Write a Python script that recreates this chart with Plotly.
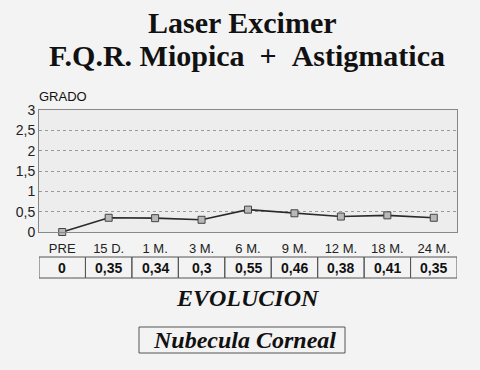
import plotly.graph_objects as go

categories = ["PRE", "15 D.", "1 M.", "3 M.", "6 M.", "9 M.", "12 M.", "18 M.", "24 M."]
values = [0, 0.35, 0.34, 0.3, 0.55, 0.46, 0.38, 0.41, 0.35]
value_labels = ["0", "0,35", "0,34", "0,3", "0,55", "0,46", "0,38", "0,41", "0,35"]
y_ticks = [0, 0.5, 1, 1.5, 2, 2.5, 3]
y_tick_labels = ["0", "0,5", "1", "1,5", "2", "2,5", "3"]

idx = list(range(len(categories)))

fig = go.Figure()
fig.add_trace(go.Scatter(
    x=idx, y=values, mode="lines+markers",
    line=dict(color="#2a2a2a", width=1.6),
    marker=dict(symbol="square", size=7, color="#b8b8b8",
                line=dict(color="#444444", width=1)),
    cliponaxis=False, showlegend=False,
))

W, H = 480, 370
L, R, T, B = 39, 23, 110, 138
ph = H - T - B
pw = W - L - R

def py(y):
    return (H - B - y) / ph

def px_x(x):
    return (x - L) / pw

shapes = []
annotations = []
sans = "Liberation Sans, Arial"
serif = "Liberation Serif, Times New Roman, serif"

# table cells
t_top, t_bot = 257, 278
for i, lab in enumerate(value_labels):
    shapes.append(dict(type="rect", xref="x", yref="paper",
                       x0=i - 0.5, x1=i + 0.5, y0=py(t_bot), y1=py(t_top),
                       line=dict(color="#555555", width=1), fillcolor="rgba(0,0,0,0)"))
    annotations.append(dict(x=i, y=py((t_top + t_bot) / 2 + 0.5), xref="x", yref="paper",
                            text="<b>" + lab + "</b>", showarrow=False,
                            xanchor="center", yanchor="middle",
                            font=dict(family=sans, size=14, color="#111111")))

# Nubecula box
shapes.append(dict(type="rect", xref="paper", yref="paper",
                   x0=px_x(139), x1=px_x(345), y0=py(353), y1=py(327),
                   line=dict(color="#555555", width=1), fillcolor="rgba(0,0,0,0)"))

def ann(x, y, text, font, xanchor="center"):
    return dict(x=px_x(x), y=py(y), xref="paper", yref="paper", text=text,
                showarrow=False, xanchor=xanchor, yanchor="middle", font=font)

annotations += [
    ann(242, 22, "<b>Laser Excimer</b>", dict(family=serif, size=30, color="#111111")),
    ann(247, 56, "<b>F.Q.R. Miopica&nbsp;&nbsp;+&nbsp;&nbsp;Astigmatica</b>",
        dict(family=serif, size=30, color="#111111")),
    ann(37, 96, "GRADO", dict(family=sans, size=13, color="#111111"), xanchor="left"),
    ann(248, 298, "<b><i>EVOLUCION</i></b>", dict(family=serif, size=24, color="#111111")),
    ann(244, 340, "<b><i>Nubecula Corneal</i></b>", dict(family=serif, size=24, color="#111111")),
]

fig.update_layout(
    width=W, height=H,
    margin=dict(l=L, r=R, t=T, b=B),
    paper_bgcolor="#f3f3f3", plot_bgcolor="#ededed",
    shapes=shapes, annotations=annotations,
    xaxis=dict(range=[-0.5, len(categories) - 0.5], tickvals=idx, ticktext=categories,
               showgrid=False, zeroline=False, showline=True, mirror=True,
               linecolor="#888888", linewidth=1, ticks="", ticklabelstandoff=4,
               tickfont=dict(family=sans, size=13, color="#222222")),
    yaxis=dict(range=[0, 3], tickvals=y_ticks, ticktext=y_tick_labels,
               showgrid=True, gridcolor="#9a9a9a", griddash="dot", gridwidth=1,
               zeroline=False, showline=True, mirror=True,
               linecolor="#888888", linewidth=1, ticks="",
               tickfont=dict(family=sans, size=14, color="#222222")),
)

fig.write_html("out.html")
